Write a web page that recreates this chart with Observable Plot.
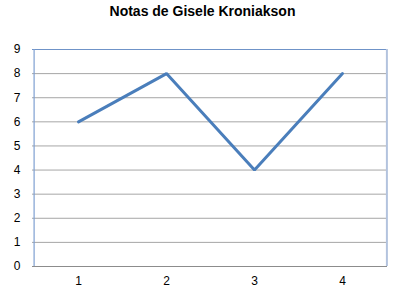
<!DOCTYPE html>
<html><head><meta charset="utf-8">
<script src="https://cdn.jsdelivr.net/npm/d3@7"></script>
<script src="https://cdn.jsdelivr.net/npm/@observablehq/plot@0.6"></script>
<style>
html,body{margin:0;padding:0;background:#fff;}
#wrap{position:relative;width:405px;height:291px;font-family:"Liberation Sans",Arial,sans-serif;}
#title{position:absolute;left:0;top:3px;width:405px;text-align:center;font-weight:bold;font-size:14px;color:#000;}
#chart{position:absolute;left:0;top:0;}
</style>
</head><body>
<div id="wrap"><div id="chart"></div><div id="title">Notas de Gisele Kroniakson</div></div>
<script>
const categories = ["1", "2", "3", "4"];
const notas = [6, 8, 4, 8];
const yTicks = [0, 1, 2, 3, 4, 5, 6, 7, 8, 9];

const data = categories.map((c, i) => ({c, v: notas[i]}));

const chart = Plot.plot({
  width: 405,
  height: 291,
  marginTop: 49,
  marginBottom: 25,
  marginLeft: 32,
  marginRight: 18,
  style: {fontFamily: "'Liberation Sans', Arial, sans-serif", fontSize: "12px", color: "#000", background: "#fff"},
  x: {type: "band", domain: categories, padding: 0, label: null},
  y: {domain: [0, 9], ticks: yTicks, label: null},
  marks: [
    Plot.ruleY(yTicks.filter(d => d > 0 && d < 9), {stroke: "#a6a6a6", strokeWidth: 1}),
    Plot.ruleY([9], {stroke: "#6f93c8", strokeWidth: 1.2}),
    Plot.ruleY([0], {stroke: "#8c8c8c", strokeWidth: 1.2}),
    Plot.ruleX([categories[0]], {x: d => d, dx: -44.4, y1: 0, y2: 9, stroke: "#7f9fd2", strokeWidth: 1.2}),
    Plot.ruleX([categories[3]], {x: d => d, dx: 44.4, y1: 0, y2: 9, stroke: "#b3c3de", strokeWidth: 2}),
    Plot.axisY(yTicks, {tickSize: 0, tickPadding: 12, fontSize: 12}),
    Plot.axisX(categories, {tickSize: 0, tickPadding: 10, fontSize: 12}),
    Plot.line(data, {x: "c", y: "v", stroke: "#4a7ebb", strokeWidth: 3, strokeLinejoin: "miter"})
  ]
});
document.getElementById("chart").appendChild(chart);
</script>
</body></html>
